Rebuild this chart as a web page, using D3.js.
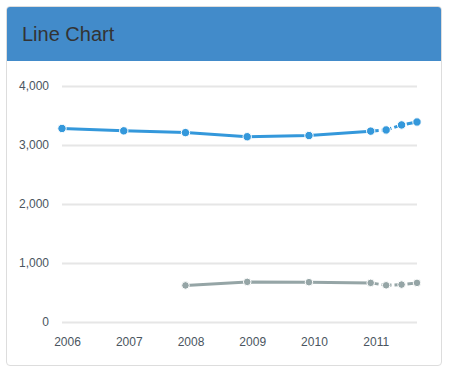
<!DOCTYPE html>
<html>
<head>
<meta charset="utf-8">
<script src="https://cdn.jsdelivr.net/npm/d3@7"></script>
<style>
  body { margin: 0; background: #fff; font-family: "Liberation Sans", Arial, sans-serif; }
  .panel { position: absolute; left: 6px; top: 6px; width: 434px; height: 358px;
           border: 1px solid #ddd; border-radius: 4px; background: #fff; overflow: hidden; }
  .panel-heading { height: 54px; background: #428bca; color: #333; }
  .panel-heading h3 { margin: 0; padding-left: 15px; line-height: 54px; font-size: 20px; font-weight: normal; }
  svg { position: absolute; left: 0; top: 0; }
</style>
</head>
<body>
<div class="panel"><div class="panel-heading"><h3>Line Chart</h3></div></div>
<script>
// Data.
var years = [2006, 2007, 2008, 2009, 2010, 2011, 2011.25, 2011.5, 2011.75]
var blueValues = [3280, 3240, 3210, 3140, 3160, 3235, 3255, 3340, 3390]
var grayValues = [null, null, 620, 680, 675, 663, 622, 634, 663]
var yTicks = [0, 1000, 2000, 3000, 4000]
var xTicks = [2006, 2007, 2008, 2009, 2010, 2011]
var solidUntil = 2011   // after this the lines are dashed

function main() {
    var width = 449, height = 373

    var svg = d3.select('body').append('svg')
        .attr('width', width)
        .attr('height', height)

    var xScale = d3.scaleLinear().domain([2006, 2011.75]).range([62, 417])
    var yScale = d3.scaleLinear().domain([0, 4000]).range([322, 86])

    // Gridlines + y labels
    var yAxis = d3.axisLeft(yScale)
        .tickValues(yTicks)
        .tickFormat(d3.format(','))
        .tickSize(-(417 - 62))
        .tickPadding(13)
    var gy = svg.append('g')
        .attr('transform', 'translate(62,0)')
        .call(yAxis)
    gy.select('.domain').remove()
    gy.selectAll('line').attr('stroke', '#e6e6e6').attr('stroke-width', 2)
    gy.selectAll('text')
        .attr('fill', '#4a5560')
        .style('font-size', '12px')
        .style('font-family', '"Liberation Sans", Arial, sans-serif')

    // X labels
    var xAxis = d3.axisBottom(xScale)
        .tickValues(xTicks)
        .tickFormat(d3.format('d'))
        .tickSize(0)
        .tickPadding(15)
    var gx = svg.append('g')
        .attr('transform', 'translate(5,322)')
        .call(xAxis)
    gx.select('.domain').remove()
    gx.selectAll('text')
        .attr('fill', '#4a5560')
        .style('font-size', '12px')
        .style('font-family', '"Liberation Sans", Arial, sans-serif')

    var series = [
        { values: blueValues, color: '#3498db', r: 4.2 },
        { values: grayValues, color: '#95a5a6', r: 3.8 }
    ]

    var line = d3.line()
        .defined(function (d) { return d.v != null })
        .x(function (d) { return xScale(d.x) })
        .y(function (d) { return yScale(d.v) })

    series.forEach(function (s) {
        var pts = years.map(function (x, i) { return { x: x, v: s.values[i] } })
        var solid = pts.filter(function (d) { return d.x <= solidUntil })
        var dashed = pts.filter(function (d) { return d.x >= solidUntil })

        svg.append('path')
            .datum(solid)
            .attr('d', line)
            .attr('fill', 'none')
            .attr('stroke', s.color)
            .attr('stroke-width', 3)

        svg.append('path')
            .datum(dashed)
            .attr('d', line)
            .attr('fill', 'none')
            .attr('stroke', s.color)
            .attr('stroke-width', 3)
            .attr('stroke-dasharray', '10,3')
            .attr('stroke-dashoffset', 2)

        svg.append('g').selectAll('circle')
            .data(pts.filter(function (d) { return d.v != null }))
            .enter().append('circle')
            .attr('cx', function (d) { return xScale(d.x) })
            .attr('cy', function (d) { return yScale(d.v) })
            .attr('r', s.r)
            .attr('fill', s.color)
            .attr('stroke', '#fff')
            .attr('stroke-width', 1)
    })
}
main()
</script>
</body>
</html>
